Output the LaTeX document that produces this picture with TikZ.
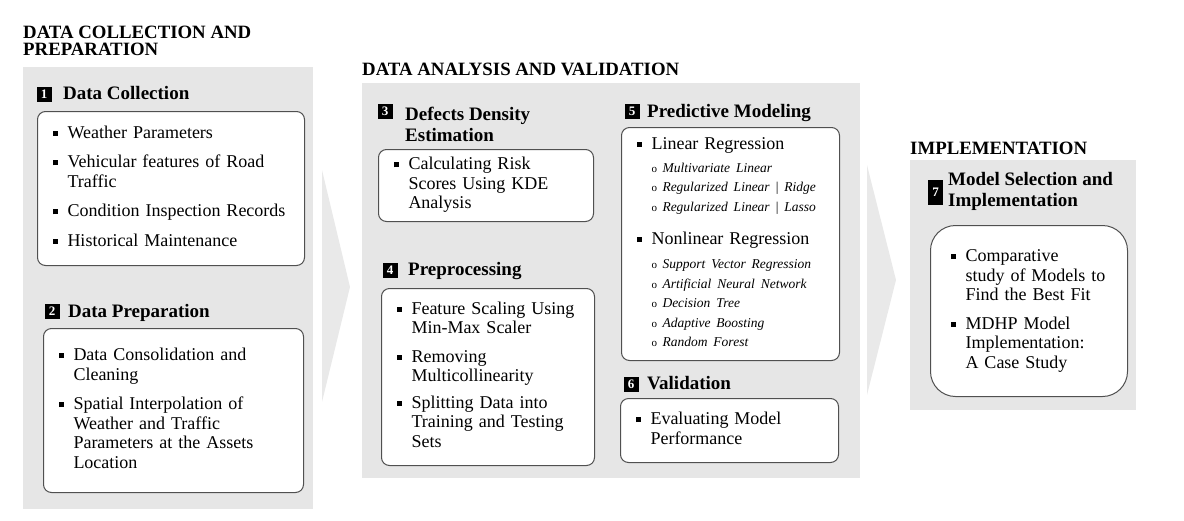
\documentclass[tikz,border=0pt]{standalone}
\usepackage{fontspec}
\setmainfont{Liberation Serif}
\usepackage{tikz}
\definecolor{panel}{RGB}{230,230,230}
\definecolor{chevron}{RGB}{233,233,233}
\definecolor{frame}{RGB}{80,80,80}

\newcommand{\bul}{\rule[2.5pt]{5pt}{5pt}}
\newcommand{\subitm}[1]{{\fontsize{13.5}{19.5}\selectfont\makebox[11pt][l]{\fontsize{11}{11}\selectfont o}\textit{#1}}}
\newenvironment{stepitems}{\noindent\begin{tabular}{@{}l@{\hspace{10pt}}l@{}}}{\end{tabular}}

\begin{document}
\begin{tikzpicture}[x=1pt,y=-1pt,
    title/.style={anchor=north west,inner sep=0pt,align=left,font=\fontsize{18.8}{17}\selectfont\bfseries},
    heading/.style={anchor=north west,inner sep=0pt,align=left,font=\fontsize{19}{21}\selectfont\bfseries},
    numbox/.style={fill=black,text=white,inner sep=0pt,minimum width=15pt,minimum height=15pt,font=\fontsize{13}{13}\selectfont\bfseries},
    stepbox/.style={draw=frame,fill=white,line width=1pt,rounded corners=8pt,anchor=north west,inner xsep=15pt,inner ysep=0pt,align=left,font=\fontsize{18}{19.5}\selectfont}]
    \useasboundingbox (0,0) rectangle (1184,520);

    \fill[chevron] (322,170) -- (350,287) -- (322,402) -- cycle;
    \fill[chevron] (867,165) -- (896,280) -- (867,395) -- cycle;

    \fill[panel] (23,67) rectangle (313,509);
    \fill[panel] (362,83) rectangle (860,478);
    \fill[panel] (910,160) rectangle (1136,410);

    \node[title] (t1) at (23,26) {DATA COLLECTION AND\\PREPARATION};
    \node[title] (t2) at (362,63) {DATA ANALYSIS AND VALIDATION};
    \node[title] (t3) at (910,142) {IMPLEMENTATION};

    \node[numbox] (n1) at (44,94) {1};
    \node[heading] (h1) at (63,86.5) {Data Collection};
    \node[stepbox,text width=237pt,minimum height=154pt] (b1) at (37,111) {%
        \begin{stepitems}
        \bul & Weather Parameters\\[10pt]
        \bul & Vehicular features of Road\\
             & Traffic\\[10pt]
        \bul & Condition Inspection Records\\[10pt]
        \bul & Historical Maintenance
        \end{stepitems}};

    \node[numbox] (n2) at (52,311) {2};
    \node[heading] (h2) at (68,304.5) {Data Preparation};
    \node[stepbox,text width=230pt,minimum height=164pt] (b2) at (43,328) {%
        \begin{stepitems}
        \bul & Data Consolidation and\\
             & Cleaning\\[10pt]
        \bul & Spatial Interpolation of\\
             & Weather and Traffic\\
             & Parameters at the Assets\\
             & Location
        \end{stepitems}};

    \node[numbox] (n3) at (385,111) {3};
    \node[heading] (h3) at (405,106.5) {Defects Density\\Estimation};
    \node[stepbox,text width=185pt,minimum height=72pt] (b3) at (378,149) {%
        \begin{stepitems}
        \bul & Calculating Risk\\
             & Scores Using KDE\\
             & Analysis
        \end{stepitems}};

    \node[numbox] (n4) at (390,270) {4};
    \node[heading] (h4) at (408,262.5) {Preprocessing};
    \node[stepbox,text width=183pt,minimum height=177pt] (b4) at (381,288) {%
        \begin{stepitems}
        \bul & Feature Scaling Using\\
             & Min-Max Scaler\\[9pt]
        \bul & Removing\\
             & Multicollinearity\\[7pt]
        \bul & Splitting Data into\\
             & Training and Testing\\
             & Sets
        \end{stepitems}};

    \node[numbox] (n5) at (632,111.5) {5};
    \node[heading] (h5) at (647,104.5) {Predictive Modeling};
    \node[stepbox,text width=188pt,minimum height=233pt] (b5) at (621,127) {%
        \begin{stepitems}
        \bul & Linear Regression\\[3.5pt]
             & \subitm{Multivariate Linear}\\
             & \subitm{Regularized Linear \textup{|} Ridge}\\
             & \subitm{Regularized Linear \textup{|} Lasso}\\[14pt]
        \bul & Nonlinear Regression\\[4.5pt]
             & \subitm{Support Vector Regression}\\
             & \subitm{Artificial Neural Network}\\
             & \subitm{Decision Tree}\\
             & \subitm{Adaptive Boosting}\\
             & \subitm{Random Forest}
        \end{stepitems}};

    \node[numbox] (n6) at (631,384) {6};
    \node[heading] (h6) at (647,376.5) {Validation};
    \node[stepbox,text width=188pt,minimum height=64pt] (b6) at (620,398) {%
        \begin{stepitems}
        \bul & Evaluating Model\\
             & Performance
        \end{stepitems}};

    \node[numbox,minimum height=25pt] (n7) at (935.5,192.5) {7};
    \node[heading] (h7) at (948,172.5) {Model Selection and\\Implementation};
    \node[stepbox,rounded corners=25pt,inner xsep=20pt,text width=157pt,minimum height=171pt] (b7) at (930,225) {%
        \begin{stepitems}
        \bul & Comparative\\
             & study of Models to\\
             & Find the Best Fit\\[9pt]
        \bul & MDHP Model\\
             & Implementation:\\
             & A Case Study
        \end{stepitems}};
\end{tikzpicture}
\end{document}
